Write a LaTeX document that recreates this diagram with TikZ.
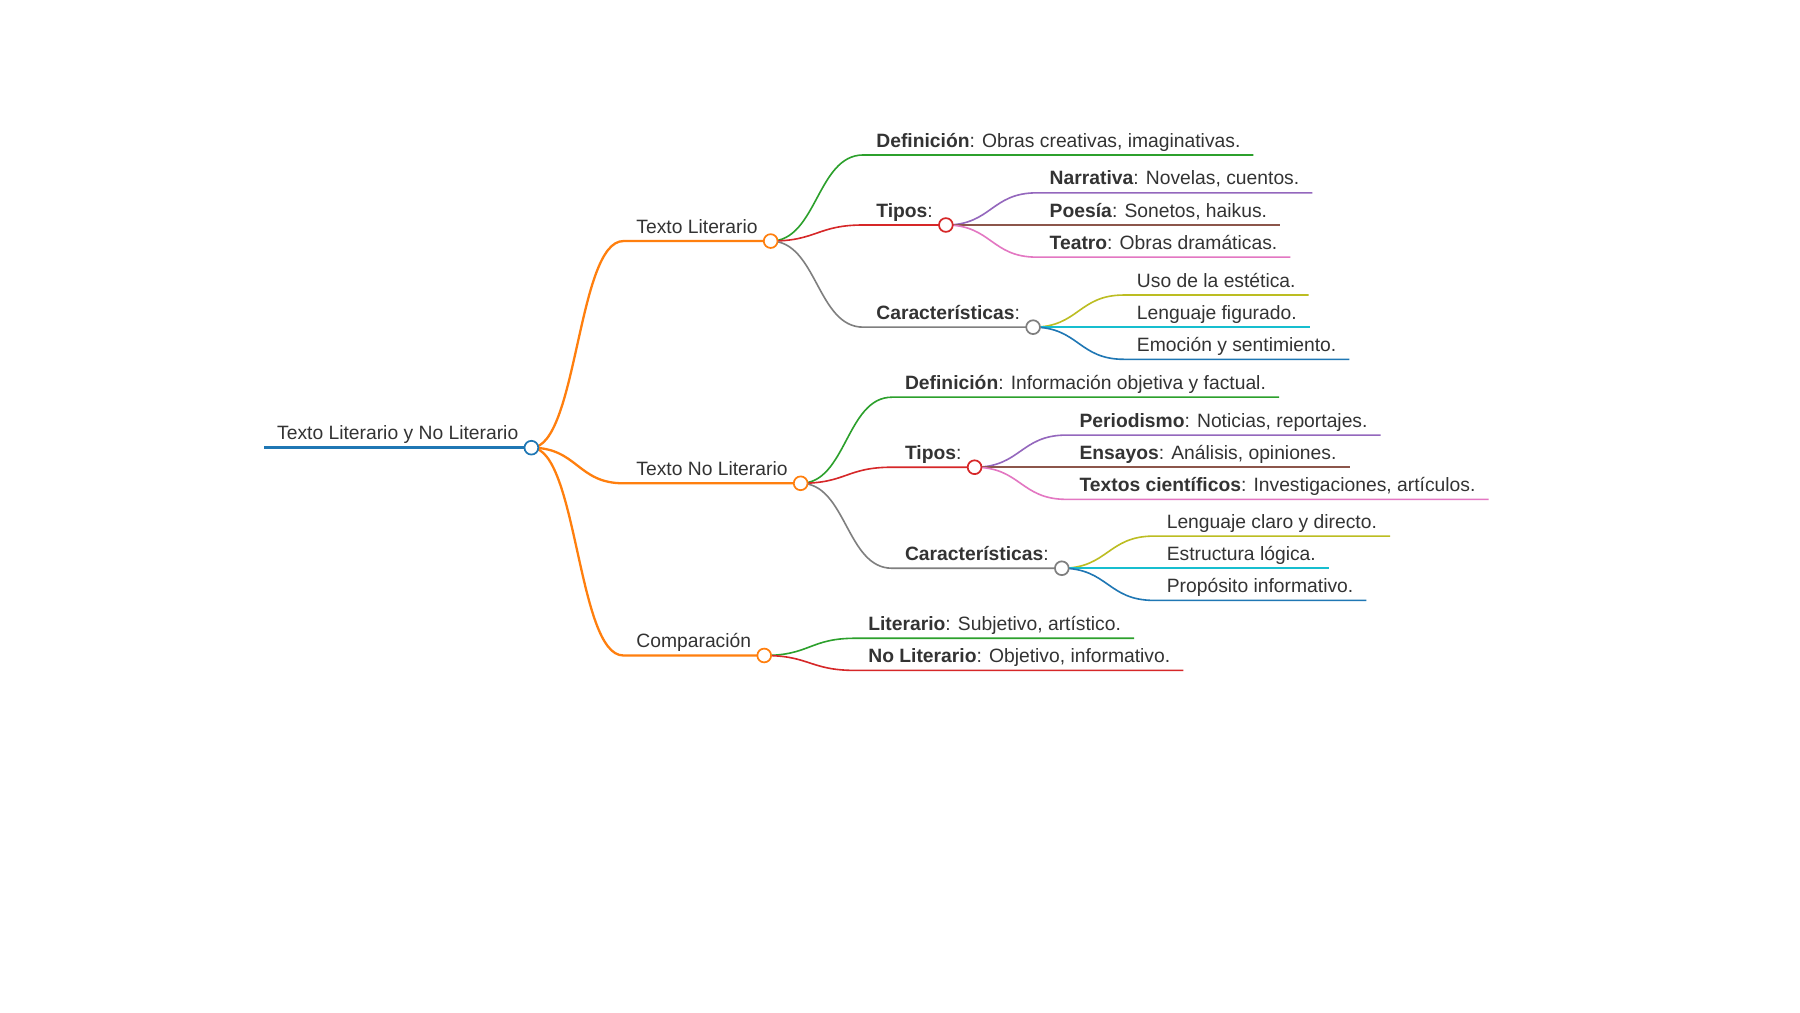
\documentclass[tikz,border=0pt]{standalone}
\usepackage{fontspec}
\setmainfont{Liberation Sans}
\usetikzlibrary{calc}

\definecolor{ink}{HTML}{333333}
\definecolor{mmblue}{HTML}{1F77B4}
\definecolor{mmorange}{HTML}{FF7F0E}
\definecolor{mmgreen}{HTML}{2CA02C}
\definecolor{mmred}{HTML}{D62728}
\definecolor{mmpurple}{HTML}{9467BD}
\definecolor{mmbrown}{HTML}{8C564B}
\definecolor{mmpink}{HTML}{E377C2}
\definecolor{mmgray}{HTML}{7F7F7F}
\definecolor{mmolive}{HTML}{BCBD22}
\definecolor{mmcyan}{HTML}{17BECF}

\tikzset{
  lbl/.style={anchor=south west, inner xsep=5.5pt, inner ysep=0pt, text depth=3.25pt,
    font=\fontsize{8.4}{10}\selectfont, text=ink},
  knob/.style={circle, draw=#1, fill=white, line width=0.75pt, inner sep=0pt, minimum size=6pt},
  w0/.style={line width=1.4pt},
  w1/.style={line width=1pt},
  w2/.style={line width=0.7pt},
}

\begin{document}
\begin{tikzpicture}[x=0.5pt,y=-0.5pt]
  \fill[white] (0,0) rectangle (1568,882);
  \useasboundingbox (0,0) rectangle (1568,882);
  \node[lbl] (root) at (230,390) {Texto Literario y No Literario};
  \draw[mmblue, w0] (root.south west) -- (root.south east);
  \foreach \nm/\pa/\xx/\yy/\clr/\lw/\txt in {
    lit/root/543/210/mmorange/w1/{Texto Literario},
    nolit/root/543/421/mmorange/w1/{Texto No Literario},
    comp/root/543/571/mmorange/w1/{Comparación},
    litdef/lit/752/135/mmgreen/w2/{\textbf{Definición}: Obras creativas, imaginativas.},
    littip/lit/752/196/mmred/w2/{\textbf{Tipos}:},
    litcar/lit/752/285/mmgray/w2/{\textbf{Características}:},
    narr/littip/903/168/mmpurple/w2/{\textbf{Narrativa}: Novelas, cuentos.},
    poes/littip/903/196/mmbrown/w2/{\textbf{Poesía}: Sonetos, haikus.},
    teat/littip/903/224/mmpink/w2/{\textbf{Teatro}: Obras dramáticas.},
    uso/litcar/979/257/mmolive/w2/{Uso de la estética.},
    leng/litcar/979/285/mmcyan/w2/{Lenguaje figurado.},
    emoc/litcar/979/313/mmblue/w2/{Emoción y sentimiento.},
    nldef/nolit/777/346/mmgreen/w2/{\textbf{Definición}: Información objetiva y factual.},
    nltip/nolit/777/407/mmred/w2/{\textbf{Tipos}:},
    nlcar/nolit/777/495/mmgray/w2/{\textbf{Características}:},
    peri/nltip/929/379/mmpurple/w2/{\textbf{Periodismo}: Noticias, reportajes.},
    ensa/nltip/929/407/mmbrown/w2/{\textbf{Ensayos}: Análisis, opiniones.},
    cien/nltip/929/435/mmpink/w2/{\textbf{Textos científicos}: Investigaciones, artículos.},
    clar/nlcar/1005/467/mmolive/w2/{Lenguaje claro y directo.},
    estr/nlcar/1005/495/mmcyan/w2/{Estructura lógica.},
    prop/nlcar/1005/523/mmblue/w2/{Propósito informativo.},
    cplit/comp/745/556/mmgreen/w2/{\textbf{Literario}: Subjetivo, artístico.},
    cpnol/comp/745/584/mmred/w2/{\textbf{No Literario}: Objetivo, informativo.}} {
    \node[lbl] (\nm) at (\xx,\yy) {\txt};
    \draw[\clr, \lw] let \p1=(\pa.south east), \p2=(\nm.south west) in
      (\p1) .. controls ({(\x1+\x2)/2},\y1) and ({(\x1+\x2)/2},\y2) .. (\p2) -- (\nm.south east);
  }
  \foreach \nm/\clr in {root/mmblue, lit/mmorange, nolit/mmorange, comp/mmorange,
    littip/mmred, litcar/mmgray, nltip/mmred, nlcar/mmgray}
    \node[knob=\clr] (\nm-k) at (\nm.south east) {};
\end{tikzpicture}
\end{document}
